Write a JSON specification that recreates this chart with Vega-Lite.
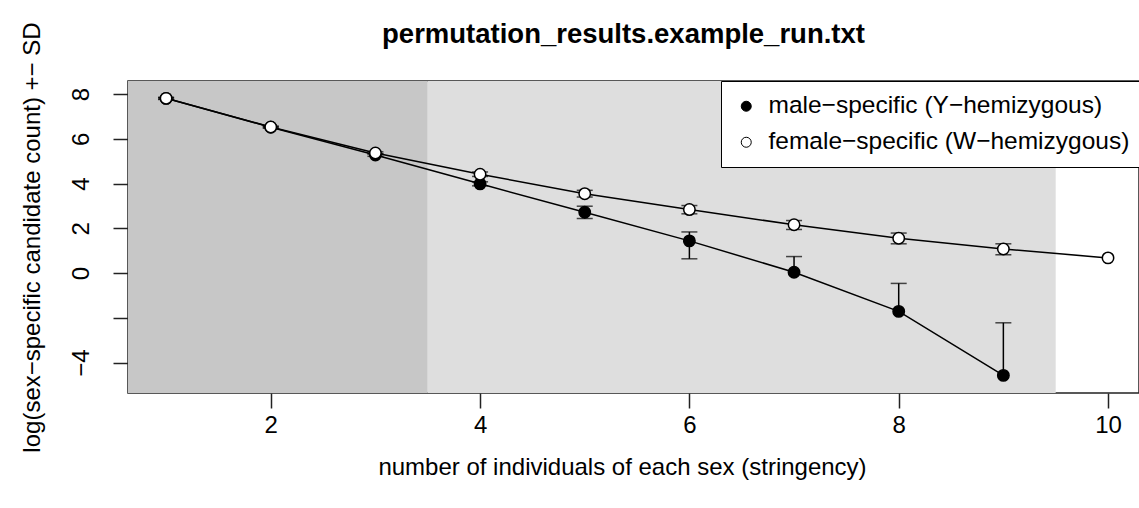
{
  "$schema": "https://vega.github.io/schema/vega-lite/v6.json",
  "autosize": {"type": "none"},
  "padding": {"left": 128, "top": 81, "right": 0, "bottom": 115},
  "width": 1011,
  "height": 312,
  "background": "white",
  "title": {
    "text": "permutation_results.example_run.txt",
    "font": "Liberation Sans",
    "fontSize": 27.5,
    "fontWeight": "bold",
    "color": "black",
    "anchor": "middle",
    "frame": "group",
    "baseline": "alphabetic",
    "offset": -49,
    "dx": -10
  },
  "config": {
    "font": "Liberation Sans",
    "view": {"stroke": "#222222", "strokeWidth": 1.5},
    "axis": {
      "grid": false,
      "domain": false,
      "tickColor": "#222222",
      "tickWidth": 1.5,
      "tickSize": 15,
      "labelFont": "Liberation Sans",
      "labelFontSize": 24,
      "labelColor": "black",
      "titleFont": "Liberation Sans",
      "titleFontSize": 24,
      "titleFontWeight": "normal",
      "titleColor": "black"
    },
    "legend": {
      "labelFont": "Liberation Sans",
      "labelFontSize": 24,
      "labelColor": "black",
      "labelLimit": 0
    }
  },
  "datasets": {
    "zones": [
      {"zone": "dark", "from": 0.636, "to": 3.5},
      {"zone": "light", "from": 3.5, "to": 9.5}
    ],
    "runs": [
      {"n": 1, "sex": "male−specific (Y−hemizygous)", "mean": 7.81, "lo": 7.76, "hi": 7.86},
      {"n": 2, "sex": "male−specific (Y−hemizygous)", "mean": 6.52, "lo": 6.48, "hi": 6.56},
      {"n": 3, "sex": "male−specific (Y−hemizygous)", "mean": 5.28, "lo": 5.22, "hi": 5.34},
      {"n": 4, "sex": "male−specific (Y−hemizygous)", "mean": 3.99, "lo": 3.9, "hi": 4.08},
      {"n": 5, "sex": "male−specific (Y−hemizygous)", "mean": 2.72, "lo": 2.44, "hi": 2.99},
      {"n": 6, "sex": "male−specific (Y−hemizygous)", "mean": 1.44, "lo": 0.64, "hi": 1.84},
      {"n": 7, "sex": "male−specific (Y−hemizygous)", "mean": 0.04, "lo": null, "hi": 0.74},
      {"n": 8, "sex": "male−specific (Y−hemizygous)", "mean": -1.71, "lo": null, "hi": -0.46},
      {"n": 9, "sex": "male−specific (Y−hemizygous)", "mean": -4.57, "lo": null, "hi": -2.22},
      {"n": 1, "sex": "female−specific (W−hemizygous)", "mean": 7.81, "lo": 7.78, "hi": 7.84},
      {"n": 2, "sex": "female−specific (W−hemizygous)", "mean": 6.53, "lo": 6.5, "hi": 6.56},
      {"n": 3, "sex": "female−specific (W−hemizygous)", "mean": 5.37, "lo": 5.32, "hi": 5.42},
      {"n": 4, "sex": "female−specific (W−hemizygous)", "mean": 4.42, "lo": 4.32, "hi": 4.52},
      {"n": 5, "sex": "female−specific (W−hemizygous)", "mean": 3.55, "lo": 3.4, "hi": 3.7},
      {"n": 6, "sex": "female−specific (W−hemizygous)", "mean": 2.84, "lo": 2.65, "hi": 3.02},
      {"n": 7, "sex": "female−specific (W−hemizygous)", "mean": 2.16, "lo": 1.95, "hi": 2.35},
      {"n": 8, "sex": "female−specific (W−hemizygous)", "mean": 1.56, "lo": 1.31, "hi": 1.79},
      {"n": 9, "sex": "female−specific (W−hemizygous)", "mean": 1.08, "lo": 0.82, "hi": 1.31},
      {"n": 10, "sex": "female−specific (W−hemizygous)", "mean": 0.68, "lo": null, "hi": null}
    ]
  },
  "layer": [
    {
      "data": {"name": "zones"},
      "transform": [{"filter": "datum.zone === 'dark'"}],
      "mark": {"type": "rect", "color": "#c7c7c7", "clip": true},
      "encoding": {
        "x": {"field": "from", "type": "quantitative", "scale": {"domain": [0.636, 10.296], "nice": false, "zero": false}},
        "x2": {"field": "to"}
      }
    },
    {
      "data": {"name": "zones"},
      "transform": [{"filter": "datum.zone === 'light'"}],
      "mark": {"type": "rect", "color": "#dedede", "clip": true},
      "encoding": {
        "x": {"field": "from", "type": "quantitative"},
        "x2": {"field": "to"}
      }
    },
    {
      "data": {"name": "runs"},
      "mark": {"type": "line", "color": "black", "strokeWidth": 1.5},
      "encoding": {
        "x": {
          "field": "n", "type": "quantitative",
          "scale": {"domain": [0.636, 10.296], "nice": false, "zero": false},
          "axis": {
            "values": [2, 4, 6, 8, 10],
            "format": "d",
            "labelPadding": 5,
            "labelBaseline": "top",
            "title": "number of individuals of each sex (stringency)",
            "titleX": 494,
            "titleY": 74,
            "titleBaseline": "middle",
            "titleAlign": "center"
          }
        },
        "y": {
          "field": "mean", "type": "quantitative",
          "scale": {"domain": [-5.357, 8.585], "nice": false, "zero": false},
          "axis": {
            "values": [-4, -2, 0, 2, 4, 6, 8],
            "labelExpr": "datum.value === -2 ? '' : (datum.value < 0 ? '−' + abs(datum.value) : datum.label)",
            "labelAngle": 270,
            "labelAlign": "center",
            "labelBaseline": "bottom",
            "labelPadding": 20,
            "title": "log(sex−specific candidate count) +− SD",
            "titleAngle": 270,
            "titleX": -96,
            "titleY": 156,
            "titleAlign": "center",
            "titleBaseline": "middle"
          }
        },
        "detail": {"field": "sex", "type": "nominal"}
      }
    },
    {
      "data": {"name": "runs"},
      "transform": [{"filter": "datum.hi != null"}],
      "mark": {"type": "rule", "color": "black", "strokeWidth": 1.5},
      "encoding": {
        "x": {"field": "n", "type": "quantitative"},
        "y": {"field": "mean", "type": "quantitative"},
        "y2": {"field": "hi"}
      }
    },
    {
      "data": {"name": "runs"},
      "transform": [{"filter": "datum.lo != null"}],
      "mark": {"type": "rule", "color": "black", "strokeWidth": 1.5},
      "encoding": {
        "x": {"field": "n", "type": "quantitative"},
        "y": {"field": "lo", "type": "quantitative"},
        "y2": {"field": "mean"}
      }
    },
    {
      "data": {"name": "runs"},
      "transform": [{"filter": "datum.hi != null"}],
      "mark": {"type": "tick", "orient": "horizontal", "color": "black", "size": 16, "thickness": 1.5},
      "encoding": {
        "x": {"field": "n", "type": "quantitative"},
        "y": {"field": "hi", "type": "quantitative"}
      }
    },
    {
      "data": {"name": "runs"},
      "transform": [{"filter": "datum.lo != null"}],
      "mark": {"type": "tick", "orient": "horizontal", "color": "black", "size": 16, "thickness": 1.5},
      "encoding": {
        "x": {"field": "n", "type": "quantitative"},
        "y": {"field": "lo", "type": "quantitative"}
      }
    },
    {
      "data": {"name": "runs"},
      "mark": {"type": "point", "shape": "circle", "filled": true, "size": 130, "stroke": "black", "strokeWidth": 1.5, "opacity": 1},
      "encoding": {
        "x": {"field": "n", "type": "quantitative"},
        "y": {"field": "mean", "type": "quantitative"},
        "fill": {
          "field": "sex", "type": "nominal",
          "scale": {"domain": ["male−specific (Y−hemizygous)", "female−specific (W−hemizygous)"], "range": ["black", "white"]},
          "legend": {
            "title": null,
            "orient": "none",
            "legendX": 593,
            "legendY": 0,
            "padding": 13,
            "strokeColor": "black",
            "fillColor": "white",
            "symbolType": "circle",
            "symbolSize": 100,
            "symbolStrokeColor": "black",
            "symbolStrokeWidth": 1,
            "symbolOffset": 0,
            "labelOffset": 10,
            "rowPadding": 11,
            "labelFontSize": 24.5
          }
        }
      }
    }
  ]
}
